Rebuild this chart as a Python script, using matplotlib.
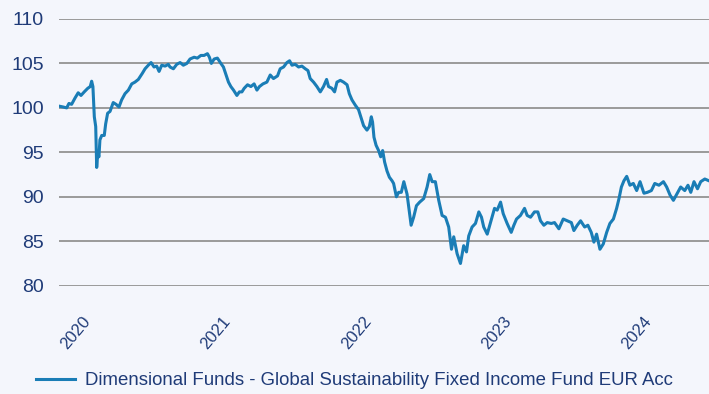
import numpy as np
import matplotlib
matplotlib.use("Agg")
import matplotlib.pyplot as plt

plt.rcParams['font.family'] = ['Liberation Sans', 'DejaVu Sans']

# fund price index, time in decimal years
years = [
    2019.879, 2019.909, 2019.934, 2019.950, 2019.969, 2019.993, 2020.016, 2020.036,
    2020.059, 2020.084, 2020.102, 2020.112, 2020.121, 2020.131, 2020.141, 2020.148,
    2020.155, 2020.164, 2020.171, 2020.184, 2020.202, 2020.212, 2020.226, 2020.243,
    2020.266, 2020.286, 2020.307, 2020.326, 2020.350, 2020.374, 2020.398, 2020.421,
    2020.445, 2020.474, 2020.493, 2020.516, 2020.536, 2020.557, 2020.576, 2020.593,
    2020.612, 2020.636, 2020.659, 2020.671, 2020.695, 2020.719, 2020.743, 2020.766,
    2020.791, 2020.814, 2020.843, 2020.866, 2020.891, 2020.914, 2020.938, 2020.952,
    2020.966, 2020.986, 2021.009, 2021.034, 2021.052, 2021.071, 2021.088, 2021.105,
    2021.124, 2021.148, 2021.166, 2021.184, 2021.200, 2021.224, 2021.248, 2021.271,
    2021.291, 2021.309, 2021.334, 2021.362, 2021.386, 2021.409, 2021.438, 2021.457,
    2021.481, 2021.505, 2021.524, 2021.541, 2021.564, 2021.588, 2021.612, 2021.636,
    2021.655, 2021.671, 2021.695, 2021.719, 2021.743, 2021.766, 2021.788, 2021.802,
    2021.826, 2021.845, 2021.862, 2021.886, 2021.909, 2021.934, 2021.950, 2021.969,
    2021.993, 2022.016, 2022.036, 2022.052, 2022.076, 2022.093, 2022.107, 2022.116,
    2022.126, 2022.141, 2022.159, 2022.174, 2022.188, 2022.202, 2022.219, 2022.236,
    2022.255, 2022.266, 2022.286, 2022.302, 2022.321, 2022.339, 2022.362, 2022.391,
    2022.409, 2022.429, 2022.452, 2022.481, 2022.505, 2022.524, 2022.541, 2022.564,
    2022.588, 2022.612, 2022.636, 2022.659, 2022.679, 2022.695, 2022.719, 2022.743,
    2022.766, 2022.786, 2022.802, 2022.826, 2022.850, 2022.874, 2022.893, 2022.909,
    2022.934, 2022.957, 2022.986, 2023.005, 2023.029, 2023.048, 2023.076, 2023.105,
    2023.124, 2023.143, 2023.171, 2023.200, 2023.219, 2023.243, 2023.271, 2023.295,
    2023.314, 2023.338, 2023.362, 2023.391, 2023.414, 2023.445, 2023.476, 2023.505,
    2023.534, 2023.552, 2023.576, 2023.600, 2023.629, 2023.652, 2023.676, 2023.695,
    2023.714, 2023.738, 2023.762, 2023.786, 2023.809, 2023.834, 2023.857, 2023.874,
    2023.891, 2023.909, 2023.929, 2023.952, 2023.976, 2024.000, 2024.024, 2024.052,
    2024.076, 2024.105, 2024.129, 2024.159, 2024.191, 2024.214, 2024.238, 2024.262,
    2024.286, 2024.314, 2024.343, 2024.366, 2024.386, 2024.409, 2024.434, 2024.457,
    2024.486, 2024.516,
]
prices = [
    100.2, 100.1, 100.0, 100.5, 100.4, 101.1, 101.7, 101.4,
    101.8, 102.2, 102.4, 103.0, 102.4, 99.0, 97.9, 93.3,
    94.9, 94.5, 96.4, 96.9, 96.9, 98.2, 99.4, 99.6,
    100.6, 100.4, 100.1, 100.9, 101.6, 102.0, 102.7, 102.9,
    103.2, 103.9, 104.4, 104.8, 105.1, 104.6, 104.7, 104.1,
    104.8, 104.7, 104.9, 104.6, 104.4, 104.9, 105.1, 104.8,
    105.0, 105.5, 105.7, 105.6, 105.9, 105.9, 106.1, 105.7,
    105.0, 105.5, 105.6, 105.0, 104.6, 103.7, 102.9, 102.4,
    102.0, 101.4, 101.8, 101.8, 102.2, 102.6, 102.4, 102.7,
    102.0, 102.4, 102.7, 102.9, 103.7, 103.3, 103.6, 104.4,
    104.6, 105.1, 105.3, 104.8, 104.9, 104.6, 104.7, 104.4,
    104.2, 103.3, 102.9, 102.4, 101.8, 102.4, 103.2, 102.4,
    102.2, 101.8, 102.9, 103.1, 102.9, 102.6, 101.6, 100.9,
    100.3, 99.8, 98.8, 98.0, 97.5, 97.9, 99.0, 98.4,
    96.7, 95.8, 95.2, 94.5, 95.2, 93.9, 92.9, 92.2,
    91.8, 91.5, 90.0, 90.5, 90.5, 91.7, 90.3, 86.8,
    87.7, 89.0, 89.4, 89.8, 91.1, 92.5, 91.7, 91.7,
    89.6, 87.9, 87.7, 86.6, 84.1, 85.5, 83.6, 82.5,
    84.5, 83.8, 85.6, 86.6, 87.0, 88.3, 87.7, 86.6,
    85.8, 87.1, 88.7, 88.5, 89.4, 88.1, 87.0, 86.0,
    86.8, 87.5, 87.9, 88.7, 87.9, 87.7, 88.3, 88.3,
    87.3, 86.8, 87.1, 87.0, 87.1, 86.4, 87.5, 87.3,
    87.1, 86.2, 86.8, 87.3, 86.6, 86.8, 86.0, 84.9,
    85.8, 84.1, 84.7, 86.0, 87.0, 87.5, 88.7, 89.8,
    91.1, 91.8, 92.3, 91.3, 91.5, 90.7, 91.7, 90.4,
    90.5, 90.7, 91.5, 91.3, 91.7, 91.1, 90.2, 89.6,
    90.3, 91.1, 90.7, 91.3, 90.5, 91.7, 90.9, 91.7,
    92.0, 91.8,
]
tick_years = [2020, 2021, 2022, 2023, 2024]
y_ticks = [80, 85, 90, 95, 100, 105, 110]
series_name = "Dimensional Funds - Global Sustainability Fixed Income Fund EUR Acc"

bg = "#f4f6fc"
navy = "#1f3b78"
line_col = "#1a7db6"

fig = plt.figure(figsize=(7.09, 3.94), dpi=100, facecolor=bg)
ax = fig.add_axes([0.0832, 0.2749, 0.9168, 0.6769], facecolor=bg)

ax.plot(years, prices, color=line_col, lw=2.2, label=series_name)

ax.set_xlim(years[0], years[-1])
ax.set_ylim(80, 110)
ax.set_yticks(y_ticks)
ax.set_xticks(tick_years)
ax.set_xticklabels([str(y) for y in tick_years], rotation=50, ha="center")

ax.grid(axis="y", color="#9a9a9a", lw=1.4)
ax.set_axisbelow(True)
for s in ax.spines.values():
    s.set_visible(False)
ax.tick_params(axis="y", length=0, pad=11, labelsize=14, labelcolor=navy)
ax.tick_params(axis="x", length=0, pad=20, labelsize=12, labelcolor=navy)

fig.legend(loc="lower center", bbox_to_anchor=(0.5, -0.03), frameon=False,
           fontsize=13.4, labelcolor=navy, handlelength=2.05, handletextpad=0.55)

fig.savefig("out.png", dpi=100, facecolor=bg)
